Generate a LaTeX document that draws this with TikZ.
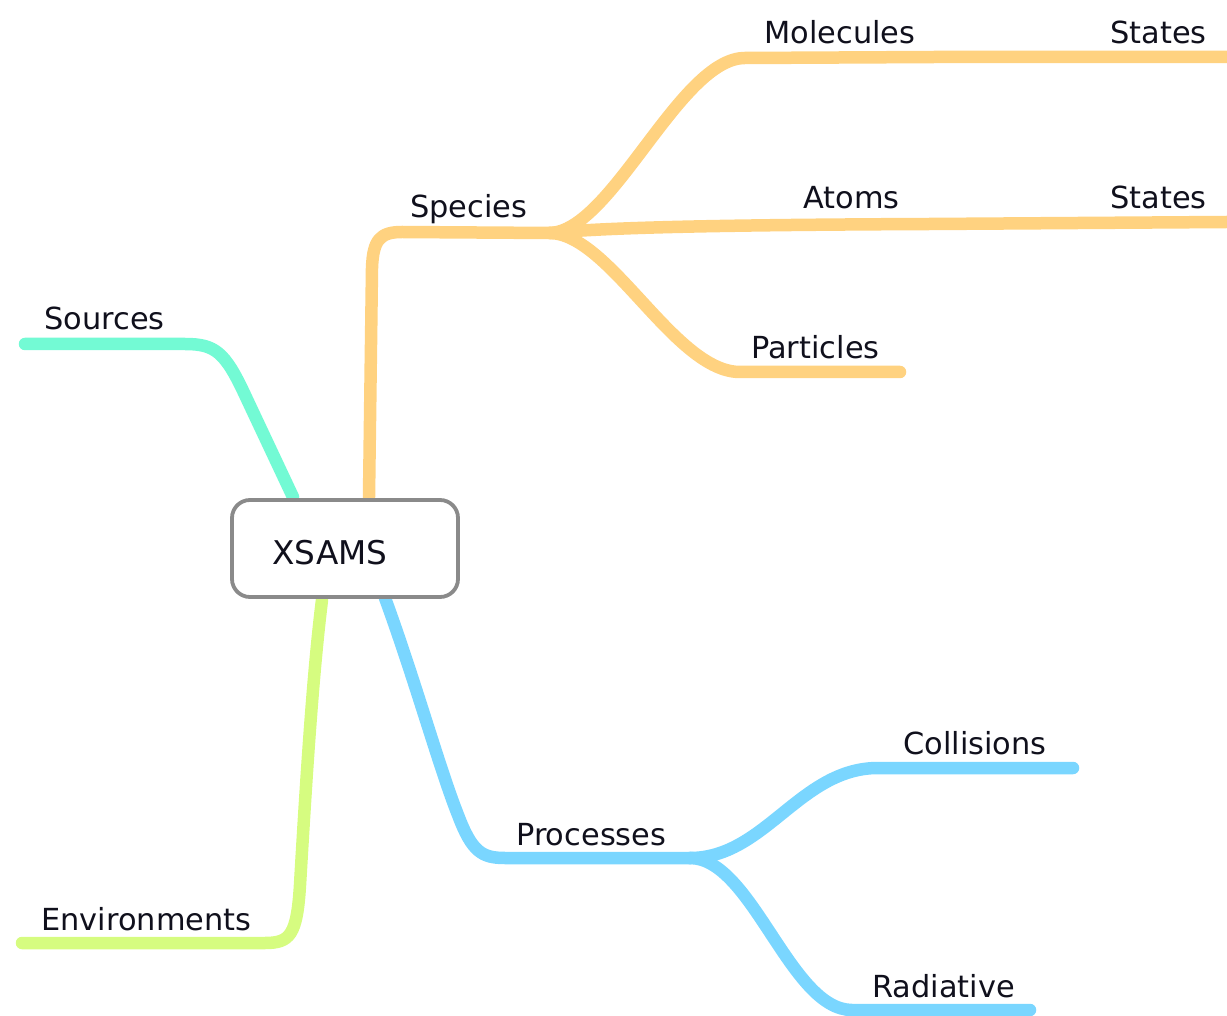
\documentclass[tikz,border=0pt]{standalone}
\usepackage{fontspec}
\setmainfont{DejaVu Sans}
\begin{document}
\definecolor{speciesc}{RGB}{255,210,128}
\definecolor{sourcesc}{RGB}{115,250,212}
\definecolor{envc}{RGB}{214,252,128}
\definecolor{procc}{RGB}{122,214,255}
\definecolor{boxc}{RGB}{138,138,138}
\definecolor{textc}{RGB}{16,16,28}
\begin{tikzpicture}[x=0.02cm,y=-0.02cm,
  branch/.style={line width=12.5*0.02cm, line cap=round, line join=round},
  lbl/.style={anchor=base west, inner sep=0pt, text=textc, font=\fontsize{17.3}{20}\selectfont},
  rootbox/.style={draw=boxc, line width=3.8*0.02cm, rounded corners=18*0.02cm, fill=white,
    minimum width=226*0.02cm, minimum height=97*0.02cm, inner sep=0pt}]
\useasboundingbox (0,0) rectangle (1227,1016);

% junction and end points
\coordinate (spRoot) at (369,497);
\coordinate (spFork) at (550,233);
\coordinate (molEnd) at (935,57);
\coordinate (molStEnd) at (1227,57);
\coordinate (atEnd) at (930,224);
\coordinate (atStEnd) at (1227,222);
\coordinate (parEnd) at (900,372);
\coordinate (srcRoot) at (293,497);
\coordinate (srcEnd) at (25,344);
\coordinate (envRoot) at (322,600);
\coordinate (envEnd) at (22,943);
\coordinate (prRoot) at (385,598);
\coordinate (prFork) at (690,858);
\coordinate (colEnd) at (1073,768);
\coordinate (radEnd) at (1030,1010);

% Species subtree
\draw[branch, speciesc] (spRoot) -- (372,268) .. controls (373,240) and (380,232) .. (402,232) -- (spFork);
\draw[branch, speciesc] (spFork) .. controls (612,231) and (680,58) .. (745,58) -- (molEnd) -- (molStEnd);
\draw[branch, speciesc] (spFork) .. controls (600,228) and (700,225) .. (atEnd) -- (atStEnd);
\draw[branch, speciesc] (spFork) .. controls (610,234) and (675,372) .. (740,372) -- (parEnd);

% Sources
\draw[branch, sourcesc] (srcRoot) -- (245,395) .. controls (225,352) and (215,344) .. (185,344) -- (srcEnd);

% Environments
\draw[branch, envc] (envRoot) .. controls (312,680) and (305,800) .. (300,885) .. controls (297,935) and (290,943) .. (265,943) -- (envEnd);

% Processes subtree
\draw[branch, procc] (prRoot) .. controls (415,680) and (440,770) .. (458,815) .. controls (472,852) and (482,858) .. (505,858) -- (prFork);
\draw[branch, procc] (prFork) .. controls (765,858) and (800,768) .. (878,768) -- (colEnd);
\draw[branch, procc] (prFork) .. controls (752,858) and (790,1010) .. (852,1010) -- (radEnd);

% root
\node[rootbox] (xsams) at (345,548.5) {};
\node[lbl, font=\fontsize{18.6}{22}\selectfont] (xsamsT) at (272,564) {XSAMS};

% labels
\node[lbl] (species) at (410,218) {Species};
\node[lbl] (molecules) at (764,44) {Molecules};
\node[lbl] (states1) at (1110,44) {States};
\node[lbl] (atoms) at (803,209) {Atoms};
\node[lbl] (states2) at (1110,209) {States};
\node[lbl] (particles) at (751,359) {Particles};
\node[lbl] (sources) at (44,330) {Sources};
\node[lbl] (environments) at (41,930) {Environments};
\node[lbl] (processes) at (516,845) {Processes};
\node[lbl] (collisions) at (903,754) {Collisions};
\node[lbl] (radiative) at (872,997) {Radiative};
\end{tikzpicture}
\end{document}
